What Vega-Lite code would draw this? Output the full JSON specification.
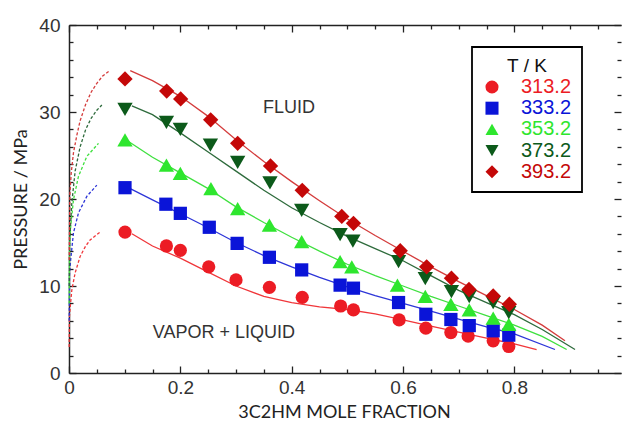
{
  "$schema": "https://vega.github.io/schema/vega-lite/v6.json",
  "width": 552,
  "height": 348,
  "autosize": {"type": "none"},
  "padding": {"left": 69, "top": 25, "right": 1, "bottom": 50},
  "config": {"view": {"stroke": null}, "font": "Liberation Sans",
    "legend": {"orient": "none", "padding": 10,
      "titleFont": "Liberation Sans", "titleFontSize": 19, "titleFontWeight": "normal", "titleColor": "#111", "titleAnchor": "middle", "titlePadding": 1,
      "labelFont": "Liberation Sans", "labelFontSize": 20, "labelOffset": 19, "symbolSize": 170, "symbolStrokeWidth": 0, "symbolOpacity": 1, "rowPadding": 1.2}},
  "datasets": {
    "pts": [
      {"T": "313.2", "x": 0.1006, "p": 16.2}, {"T": "313.2", "x": 0.175, "p": 14.6}, {"T": "313.2", "x": 0.2, "p": 14.1}, {"T": "313.2", "x": 0.251, "p": 12.2}, {"T": "313.2", "x": 0.3, "p": 10.7}, {"T": "313.2", "x": 0.36, "p": 9.85}, {"T": "313.2", "x": 0.419, "p": 8.7}, {"T": "313.2", "x": 0.488, "p": 7.7}, {"T": "313.2", "x": 0.511, "p": 7.25}, {"T": "313.2", "x": 0.593, "p": 6.1}, {"T": "313.2", "x": 0.641, "p": 5.15}, {"T": "313.2", "x": 0.686, "p": 4.65}, {"T": "313.2", "x": 0.717, "p": 4.25}, {"T": "313.2", "x": 0.762, "p": 3.7}, {"T": "313.2", "x": 0.79, "p": 3.05},
      {"T": "333.2", "x": 0.1006, "p": 21.3}, {"T": "333.2", "x": 0.174, "p": 19.4}, {"T": "333.2", "x": 0.2, "p": 18.35}, {"T": "333.2", "x": 0.252, "p": 16.75}, {"T": "333.2", "x": 0.302, "p": 14.9}, {"T": "333.2", "x": 0.36, "p": 13.3}, {"T": "333.2", "x": 0.418, "p": 11.85}, {"T": "333.2", "x": 0.487, "p": 10.1}, {"T": "333.2", "x": 0.511, "p": 9.75}, {"T": "333.2", "x": 0.592, "p": 8.1}, {"T": "333.2", "x": 0.641, "p": 6.75}, {"T": "333.2", "x": 0.686, "p": 6.15}, {"T": "333.2", "x": 0.719, "p": 5.45}, {"T": "333.2", "x": 0.762, "p": 4.85}, {"T": "333.2", "x": 0.79, "p": 4.35},
      {"T": "353.2", "x": 0.1006, "p": 26.8}, {"T": "353.2", "x": 0.175, "p": 23.9}, {"T": "353.2", "x": 0.2, "p": 22.95}, {"T": "353.2", "x": 0.255, "p": 21.2}, {"T": "353.2", "x": 0.303, "p": 18.9}, {"T": "353.2", "x": 0.36, "p": 17.0}, {"T": "353.2", "x": 0.418, "p": 15.1}, {"T": "353.2", "x": 0.487, "p": 12.8}, {"T": "353.2", "x": 0.508, "p": 12.2}, {"T": "353.2", "x": 0.59, "p": 10.1}, {"T": "353.2", "x": 0.64, "p": 8.8}, {"T": "353.2", "x": 0.686, "p": 7.9}, {"T": "353.2", "x": 0.719, "p": 7.25}, {"T": "353.2", "x": 0.762, "p": 6.3}, {"T": "353.2", "x": 0.79, "p": 5.6},
      {"T": "373.2", "x": 0.1006, "p": 30.3}, {"T": "373.2", "x": 0.175, "p": 28.8}, {"T": "373.2", "x": 0.2, "p": 28.0}, {"T": "373.2", "x": 0.254, "p": 26.2}, {"T": "373.2", "x": 0.303, "p": 24.2}, {"T": "373.2", "x": 0.361, "p": 21.85}, {"T": "373.2", "x": 0.418, "p": 18.7}, {"T": "373.2", "x": 0.487, "p": 15.9}, {"T": "373.2", "x": 0.51, "p": 15.15}, {"T": "373.2", "x": 0.592, "p": 12.8}, {"T": "373.2", "x": 0.64, "p": 10.85}, {"T": "373.2", "x": 0.687, "p": 9.35}, {"T": "373.2", "x": 0.719, "p": 8.77}, {"T": "373.2", "x": 0.762, "p": 8.1}, {"T": "373.2", "x": 0.79, "p": 6.95},
      {"T": "393.2", "x": 0.1006, "p": 33.8}, {"T": "393.2", "x": 0.1755, "p": 32.4}, {"T": "393.2", "x": 0.2006, "p": 31.5}, {"T": "393.2", "x": 0.2545, "p": 29.1}, {"T": "393.2", "x": 0.303, "p": 26.4}, {"T": "393.2", "x": 0.362, "p": 23.8}, {"T": "393.2", "x": 0.419, "p": 21.0}, {"T": "393.2", "x": 0.49, "p": 18.0}, {"T": "393.2", "x": 0.511, "p": 17.2}, {"T": "393.2", "x": 0.595, "p": 14.05}, {"T": "393.2", "x": 0.6425, "p": 12.2}, {"T": "393.2", "x": 0.687, "p": 10.9}, {"T": "393.2", "x": 0.7185, "p": 9.6}, {"T": "393.2", "x": 0.762, "p": 8.85}, {"T": "393.2", "x": 0.791, "p": 7.9}
    ],
    "solid": [
      {"T": "313.2", "x": 0.113, "p": 16.0}, {"T": "313.2", "x": 0.15, "p": 14.6}, {"T": "313.2", "x": 0.2, "p": 13.2}, {"T": "313.2", "x": 0.25, "p": 11.6}, {"T": "313.2", "x": 0.3, "p": 10.0}, {"T": "313.2", "x": 0.35, "p": 8.8}, {"T": "313.2", "x": 0.4, "p": 8.1}, {"T": "313.2", "x": 0.45, "p": 7.6}, {"T": "313.2", "x": 0.5, "p": 7.3}, {"T": "313.2", "x": 0.55, "p": 6.8}, {"T": "313.2", "x": 0.6, "p": 6.1}, {"T": "313.2", "x": 0.65, "p": 5.4}, {"T": "313.2", "x": 0.7, "p": 4.7}, {"T": "313.2", "x": 0.75, "p": 4.0}, {"T": "313.2", "x": 0.8, "p": 3.35}, {"T": "313.2", "x": 0.84, "p": 2.7},
      {"T": "333.2", "x": 0.11, "p": 21.2}, {"T": "333.2", "x": 0.15, "p": 19.9}, {"T": "333.2", "x": 0.2, "p": 18.3}, {"T": "333.2", "x": 0.25, "p": 16.7}, {"T": "333.2", "x": 0.3, "p": 15.0}, {"T": "333.2", "x": 0.35, "p": 13.5}, {"T": "333.2", "x": 0.4, "p": 12.2}, {"T": "333.2", "x": 0.45, "p": 11.0}, {"T": "333.2", "x": 0.5, "p": 9.9}, {"T": "333.2", "x": 0.55, "p": 8.9}, {"T": "333.2", "x": 0.6, "p": 8.0}, {"T": "333.2", "x": 0.65, "p": 7.1}, {"T": "333.2", "x": 0.7, "p": 6.2}, {"T": "333.2", "x": 0.75, "p": 5.3}, {"T": "333.2", "x": 0.8, "p": 4.5}, {"T": "333.2", "x": 0.873, "p": 2.7},
      {"T": "353.2", "x": 0.107, "p": 26.6}, {"T": "353.2", "x": 0.15, "p": 24.8}, {"T": "353.2", "x": 0.2, "p": 23.0}, {"T": "353.2", "x": 0.25, "p": 21.2}, {"T": "353.2", "x": 0.3, "p": 19.1}, {"T": "353.2", "x": 0.35, "p": 17.3}, {"T": "353.2", "x": 0.4, "p": 15.6}, {"T": "353.2", "x": 0.45, "p": 14.0}, {"T": "353.2", "x": 0.5, "p": 12.5}, {"T": "353.2", "x": 0.55, "p": 11.2}, {"T": "353.2", "x": 0.6, "p": 10.0}, {"T": "353.2", "x": 0.65, "p": 8.8}, {"T": "353.2", "x": 0.7, "p": 7.7}, {"T": "353.2", "x": 0.75, "p": 6.6}, {"T": "353.2", "x": 0.8, "p": 5.5}, {"T": "353.2", "x": 0.85, "p": 4.2}, {"T": "353.2", "x": 0.894, "p": 2.7},
      {"T": "373.2", "x": 0.113, "p": 30.7}, {"T": "373.2", "x": 0.15, "p": 29.7}, {"T": "373.2", "x": 0.2, "p": 27.6}, {"T": "373.2", "x": 0.25, "p": 25.4}, {"T": "373.2", "x": 0.3, "p": 23.2}, {"T": "373.2", "x": 0.35, "p": 21.0}, {"T": "373.2", "x": 0.4, "p": 19.0}, {"T": "373.2", "x": 0.45, "p": 17.3}, {"T": "373.2", "x": 0.5, "p": 15.7}, {"T": "373.2", "x": 0.55, "p": 14.3}, {"T": "373.2", "x": 0.6, "p": 12.9}, {"T": "373.2", "x": 0.65, "p": 11.2}, {"T": "373.2", "x": 0.7, "p": 9.5}, {"T": "373.2", "x": 0.75, "p": 8.1}, {"T": "373.2", "x": 0.8, "p": 6.7}, {"T": "373.2", "x": 0.85, "p": 5.0}, {"T": "373.2", "x": 0.909, "p": 2.7},
      {"T": "393.2", "x": 0.11, "p": 34.75}, {"T": "393.2", "x": 0.15, "p": 33.6}, {"T": "393.2", "x": 0.2, "p": 31.8}, {"T": "393.2", "x": 0.25, "p": 29.5}, {"T": "393.2", "x": 0.3, "p": 26.8}, {"T": "393.2", "x": 0.35, "p": 24.3}, {"T": "393.2", "x": 0.4, "p": 22.0}, {"T": "393.2", "x": 0.45, "p": 19.8}, {"T": "393.2", "x": 0.5, "p": 17.7}, {"T": "393.2", "x": 0.55, "p": 15.8}, {"T": "393.2", "x": 0.6, "p": 14.0}, {"T": "393.2", "x": 0.65, "p": 12.2}, {"T": "393.2", "x": 0.7, "p": 10.5}, {"T": "393.2", "x": 0.75, "p": 8.9}, {"T": "393.2", "x": 0.8, "p": 7.3}, {"T": "393.2", "x": 0.85, "p": 5.5}, {"T": "393.2", "x": 0.891, "p": 3.7}
    ],
    "dash": [
      {"T": "313.2", "x": 0.0003, "p": 3.0}, {"T": "313.2", "x": 0.0008, "p": 6.5}, {"T": "313.2", "x": 0.002, "p": 7.4}, {"T": "313.2", "x": 0.005, "p": 9.5}, {"T": "313.2", "x": 0.011, "p": 11.5}, {"T": "313.2", "x": 0.02, "p": 13.4}, {"T": "313.2", "x": 0.03, "p": 14.6}, {"T": "313.2", "x": 0.038, "p": 15.3}, {"T": "313.2", "x": 0.056, "p": 16.2},
      {"T": "333.2", "x": 0.0003, "p": 6.0}, {"T": "333.2", "x": 0.001, "p": 11.5}, {"T": "333.2", "x": 0.003, "p": 13.0}, {"T": "333.2", "x": 0.008, "p": 16.1}, {"T": "333.2", "x": 0.017, "p": 18.4}, {"T": "333.2", "x": 0.032, "p": 20.3}, {"T": "333.2", "x": 0.05, "p": 21.6},
      {"T": "353.2", "x": 0.0003, "p": 8.0}, {"T": "353.2", "x": 0.001, "p": 14.5}, {"T": "353.2", "x": 0.003, "p": 16.8}, {"T": "353.2", "x": 0.008, "p": 19.9}, {"T": "353.2", "x": 0.017, "p": 22.6}, {"T": "353.2", "x": 0.032, "p": 24.9}, {"T": "353.2", "x": 0.053, "p": 26.4},
      {"T": "373.2", "x": 0.0004, "p": 10.0}, {"T": "373.2", "x": 0.0015, "p": 15.5}, {"T": "373.2", "x": 0.005, "p": 19.5}, {"T": "373.2", "x": 0.011, "p": 23.2}, {"T": "373.2", "x": 0.02, "p": 26.0}, {"T": "373.2", "x": 0.03, "p": 28.0}, {"T": "373.2", "x": 0.04, "p": 29.3}, {"T": "373.2", "x": 0.05, "p": 30.2}, {"T": "373.2", "x": 0.059, "p": 30.8},
      {"T": "393.2", "x": 0.0004, "p": 13.0}, {"T": "393.2", "x": 0.0015, "p": 20.5}, {"T": "393.2", "x": 0.004, "p": 23.0}, {"T": "393.2", "x": 0.008, "p": 25.3}, {"T": "393.2", "x": 0.014, "p": 27.3}, {"T": "393.2", "x": 0.02, "p": 29.0}, {"T": "393.2", "x": 0.03, "p": 30.9}, {"T": "393.2", "x": 0.04, "p": 32.3}, {"T": "393.2", "x": 0.05, "p": 33.3}, {"T": "393.2", "x": 0.06, "p": 34.1}, {"T": "393.2", "x": 0.074, "p": 34.8}
    ],
    "lab": [
      {"text": "FLUID", "x": 0.395, "p": 30.46},
      {"text": "VAPOR + LIQUID", "x": 0.2784, "p": 4.6}
    ]
  },
  "resolve": {"axis": {"x": "independent", "y": "independent"}},
  "layer": [
    {
      "data": {"name": "solid"},
      "mark": {"type": "line", "strokeWidth": 1.3},
      "encoding": {
        "x": {"field": "x", "type": "quantitative", "scale": {"domain": [0, 0.9916], "nice": false, "zero": false},
          "axis": {"orient": "bottom", "values": [0, 0.2, 0.4, 0.6, 0.8], "grid": false, "ticks": true, "tickSize": -7, "tickColor": "#222", "tickWidth": 1.3,
            "domain": true, "domainColor": "#222", "domainWidth": 1.5, "labelFlush": false, "labelOverlap": false,
            "labelExpr": "format(datum.value, '.1~f')", "labelFont": "Liberation Sans", "labelFontSize": 19, "labelColor": "#333", "labelPadding": 12,
            "title": "3C2HM MOLE FRACTION", "titleFont": "Lato", "titleFontSize": 18, "titleFontWeight": "normal", "titleColor": "#222",
            "titleX": 275, "titleY": 44, "titleBaseline": "alphabetic", "titleAlign": "center", "titleAnchor": null}},
        "y": {"field": "p", "type": "quantitative", "scale": {"domain": [0, 40], "nice": false},
          "axis": {"orient": "left", "values": [0, 10, 20, 30, 40], "grid": false, "ticks": true, "tickSize": -7, "tickColor": "#222", "tickWidth": 1.3,
            "domain": true, "domainColor": "#222", "domainWidth": 1.5, "labelFlush": false, "labelOverlap": false,
            "labelFont": "Liberation Sans", "labelFontSize": 19, "labelColor": "#333", "labelPadding": 16,
            "title": "PRESSURE / MPa", "titleFont": "Lato", "titleFontSize": 18, "titleFontWeight": "normal", "titleColor": "#222",
            "titleX": -43, "titleY": 174, "titleAngle": -90, "titleBaseline": "alphabetic", "titleAlign": "center", "titleAnchor": null}},
        "stroke": {"field": "T", "type": "nominal", "legend": null,
          "scale": {"domain": ["393.2", "373.2", "353.2", "333.2", "313.2"], "range": ["#d43c3c", "#2e6b3c", "#3fe03f", "#2d35d8", "#f0363a"]}},
        "detail": {"field": "T"}
      }
    },
    {
      "data": {"name": "dash"},
      "mark": {"type": "line", "strokeWidth": 1.3, "strokeDash": [3, 2]},
      "encoding": {
        "x": {"field": "x", "type": "quantitative",
          "axis": {"orient": "bottom", "values": [0.05, 0.1, 0.15, 0.25, 0.3, 0.35, 0.45, 0.5, 0.55, 0.65, 0.7, 0.75, 0.85, 0.9, 0.95], "grid": false, "labels": false, "domain": false, "ticks": true, "tickSize": -4, "tickColor": "#222", "tickWidth": 1.3, "title": null}},
        "y": {"field": "p", "type": "quantitative",
          "axis": {"orient": "left", "values": [2, 4, 6, 8, 12, 14, 16, 18, 22, 24, 26, 28, 32, 34, 36, 38], "grid": false, "labels": false, "domain": false, "ticks": true, "tickSize": -4, "tickColor": "#222", "tickWidth": 1.3, "title": null}},
        "stroke": {"field": "T", "type": "nominal", "legend": null},
        "detail": {"field": "T"}
      }
    },
    {
      "data": {"name": "pts"},
      "transform": [{"filter": {"field": "T", "oneOf": ["313.2", "333.2"]}}],
      "mark": {"type": "point", "filled": true, "opacity": 1, "size": 175},
      "encoding": {
        "x": {"field": "x", "type": "quantitative",
          "axis": {"orient": "top", "values": [0, 0.2, 0.4, 0.6, 0.8], "grid": false, "labels": false, "domain": true, "domainColor": "#222", "domainWidth": 1.5, "ticks": true, "tickSize": -7, "tickColor": "#222", "tickWidth": 1.3, "title": null}},
        "y": {"field": "p", "type": "quantitative",
          "axis": {"orient": "right", "values": [0, 10, 20, 30, 40], "grid": false, "labels": false, "domain": false, "ticks": true, "tickSize": -7, "tickColor": "#222", "tickWidth": 1.3, "title": null}},
        "color": {"field": "T", "type": "nominal",
          "scale": {"domain": ["313.2", "333.2", "353.2", "373.2", "393.2"], "range": ["#ec1c24", "#0a14d8", "#2ee62e", "#0c5a1a", "#c40808"]},
          "legend": {"title": "T / K", "legendX": 403, "legendY": 22, "fillColor": "white", "strokeColor": "black",
            "encode": {"labels": {"update": {"fill": {"scale": "color", "field": "value"}}}, "legend": {"update": {"strokeWidth": {"value": 1.8}}}}}},
        "shape": {"field": "T", "type": "nominal",
          "scale": {"domain": ["313.2", "333.2", "353.2", "373.2", "393.2"], "range": ["circle", "square", "triangle-up", "triangle-down", "diamond"]},
          "legend": {"title": "T / K", "legendX": 403, "legendY": 22, "fillColor": "white", "strokeColor": "black",
            "encode": {"labels": {"update": {"fill": {"scale": "color", "field": "value"}}}, "legend": {"update": {"strokeWidth": {"value": 1.8}}}}}}
      }
    },
    {
      "data": {"name": "pts"},
      "transform": [{"filter": {"field": "T", "oneOf": ["353.2", "373.2", "393.2"]}}],
      "mark": {"type": "point", "filled": true, "opacity": 1, "size": 235},
      "encoding": {
        "x": {"field": "x", "type": "quantitative", "axis": null},
        "y": {"field": "p", "type": "quantitative", "axis": null},
        "color": {"field": "T", "type": "nominal",
          "legend": {"title": "T / K", "legendX": 403, "legendY": 22, "fillColor": "white", "strokeColor": "black",
            "encode": {"labels": {"update": {"fill": {"scale": "color", "field": "value"}}}, "legend": {"update": {"strokeWidth": {"value": 1.8}}}}}},
        "shape": {"field": "T", "type": "nominal",
          "legend": {"title": "T / K", "legendX": 403, "legendY": 22, "fillColor": "white", "strokeColor": "black",
            "encode": {"labels": {"update": {"fill": {"scale": "color", "field": "value"}}}, "legend": {"update": {"strokeWidth": {"value": 1.8}}}}}}
      }
    },
    {
      "data": {"name": "lab"},
      "mark": {"type": "text", "font": "Liberation Sans", "fontSize": 18, "color": "#333", "align": "center", "baseline": "middle"},
      "encoding": {
        "x": {"field": "x", "type": "quantitative",
          "axis": {"orient": "top", "values": [0.05, 0.1, 0.15, 0.25, 0.3, 0.35, 0.45, 0.5, 0.55, 0.65, 0.7, 0.75, 0.85, 0.9, 0.95], "grid": false, "labels": false, "domain": false, "ticks": true, "tickSize": -4, "tickColor": "#222", "tickWidth": 1.3, "title": null}},
        "y": {"field": "p", "type": "quantitative",
          "axis": {"orient": "right", "values": [2, 4, 6, 8, 12, 14, 16, 18, 22, 24, 26, 28, 32, 34, 36, 38], "grid": false, "labels": false, "domain": false, "ticks": true, "tickSize": -4, "tickColor": "#222", "tickWidth": 1.3, "title": null}},
        "text": {"field": "text"}
      }
    }
  ]
}
